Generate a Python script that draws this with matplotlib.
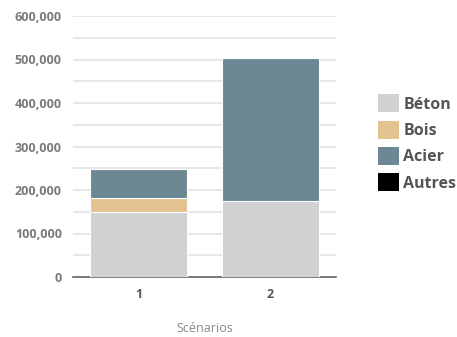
import matplotlib
matplotlib.use("Agg")
import matplotlib.pyplot as plt
from matplotlib.patches import Patch
from matplotlib.ticker import FuncFormatter
import numpy as np

plt.rcParams['font.family'] = ['Open Sans', 'DejaVu Sans']

scenarios = ["1", "2"]
materials = ["Béton", "Bois", "Acier", "Autres"]
beton = [150000, 174000]
bois = [31000, 0]
acier = [67000, 330000]
autres = [0, 0]
colors = ["#d0d1d3", "#e3c28f", "#6b8894", "#000000"]

fig = plt.figure(figsize=(4.57, 3.37), dpi=100)
ax = fig.add_axes([73 / 457, 60 / 337, 263 / 457, 261 / 337])

x = np.arange(len(scenarios))
bottom = np.zeros(len(scenarios))
for vals, col in zip([beton, bois, acier, autres], colors):
    ax.bar(x, vals, 0.74, bottom=bottom, color=col, edgecolor="white",
           linewidth=0.8, zorder=3)
    bottom += np.array(vals)

ax.set_xlim(-0.5, 1.5)
ax.set_ylim(0, 600000)
ax.set_yticks(np.arange(0, 600001, 100000))
ax.set_yticks(np.arange(50000, 600000, 100000), minor=True)
ax.yaxis.set_major_formatter(FuncFormatter(lambda v, p: f"{int(v):,}"))
ax.grid(axis="y", which="both", color="#e3e3e3", linewidth=1.2, zorder=0)
ax.tick_params(axis="y", which="both", length=0, pad=8, labelsize=9,
               labelcolor="#7a7a7a")
ax.tick_params(axis="x", length=0, pad=8, labelsize=9, labelcolor="#555555")
for lab in ax.get_yticklabels() + ax.get_xticklabels():
    lab.set_fontweight("bold")
ax.set_xticks(x)
ax.set_xticklabels(scenarios)

for s in ["top", "right", "left"]:
    ax.spines[s].set_visible(False)
ax.spines["bottom"].set_color("#666666")
ax.spines["bottom"].set_linewidth(1.2)

ax.set_xlabel("Scénarios", fontsize=9, color="#888888", labelpad=15)

handles = [Patch(facecolor=c, edgecolor="none") for c in colors]
leg = fig.legend(handles, materials, loc="center left",
                 bbox_to_anchor=(365 / 457, 194 / 337), frameon=False,
                 borderpad=0.3, handlelength=1.35, handleheight=1.35,
                 handletextpad=0.25, labelspacing=0.5,
                 prop={"size": 11.5, "weight": "bold"})
for t in leg.get_texts():
    t.set_color("#555555")

fig.savefig("out.png", dpi=100)
